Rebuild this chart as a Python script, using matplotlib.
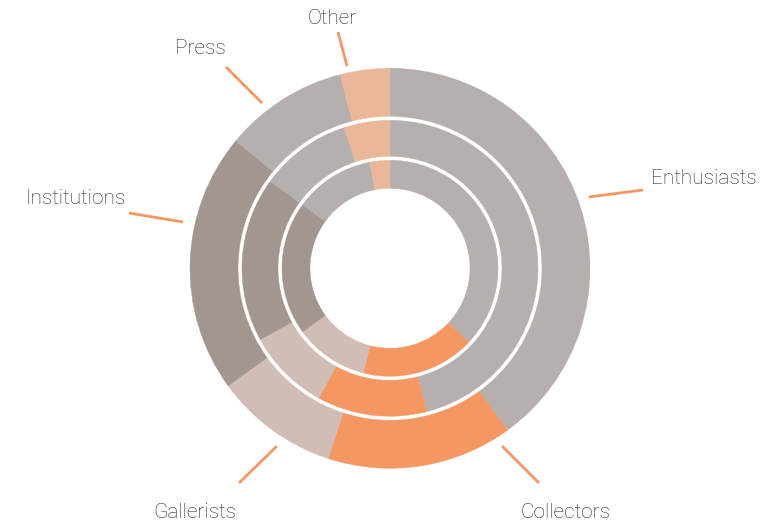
import numpy as np
import matplotlib
matplotlib.use("Agg")
import matplotlib.pyplot as plt

# donnees (parts en %, du haut dans le sens horaire)
categories = ["Enthusiasts", "Collectors", "Gallerists", "Institutions", "Press", "Other"]
outer = [40, 15, 10, 21, 10, 4]
middle = [46, 12, 9, 18, 10, 5]
inner = [37, 17, 11, 20, 12, 3]
colors = ["#b5afae", "#f59762", "#d0bdb5", "#a39590", "#b5afae", "#ebb799"]

# anneaux : (rayon exterieur, largeur) en pixels
rings = [(outer, 200, 48), (middle, 148, 36), (inner, 108, 28)]

# etiquettes : texte (x, y, ha) et trait (x1, y1, x2, y2), coordonnees pixels de l'image
cx, cy = 390, 268.3
label_layout = {
    "Enthusiasts": (651, 179, "left", (589, 197, 643, 190)),
    "Collectors": (566, 512, "center", (502, 446, 539, 483)),
    "Gallerists": (195, 512, "center", (277, 446, 239, 483)),
    "Institutions": (126, 198, "right", (129, 213, 183, 222)),
    "Press": (200, 49, "center", (226, 67, 262, 103)),
    "Other": (332, 19, "center", (338, 32, 347, 66)),
}

plt.rcParams["font.family"] = ["Roboto", "DejaVu Sans"]

fig = plt.figure(figsize=(7.69, 5.24), dpi=100)
ax = fig.add_axes([0, 0, 1, 1])

for vals, r, w in rings:
    wedges, _ = ax.pie(vals, radius=r, colors=colors, startangle=90, counterclock=False,
                       wedgeprops=dict(width=w, linewidth=0.3))
    for wd in wedges:
        wd.set_edgecolor(wd.get_facecolor())

for name in categories:
    tx, ty, ha, (x1, y1, x2, y2) = label_layout[name]
    ax.text(tx - cx, cy - ty, name, ha=ha, va="center", fontsize=15,
            fontweight="light", color="#262626")
    ax.plot([x1 - cx, x2 - cx], [cy - y1, cy - y2], color="#f59762", lw=2,
            solid_capstyle="butt")

ax.set_xlim(-cx, 769 - cx)
ax.set_ylim(cy - 524, cy)
ax.set_aspect("equal")
ax.axis("off")

fig.savefig("out.png", dpi=100)
